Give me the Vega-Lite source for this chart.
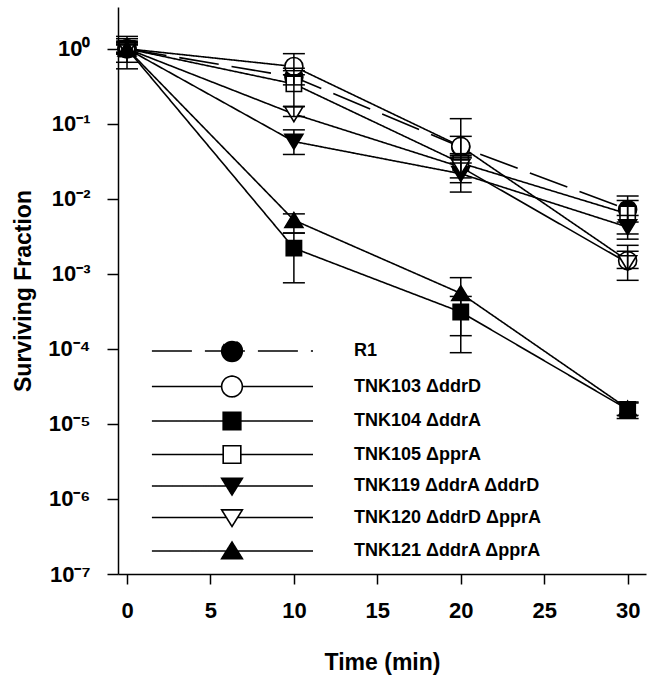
{
  "$schema": "https://vega.github.io/schema/vega-lite/v6.json",
  "width": 528,
  "height": 567,
  "autosize": {"type": "none"},
  "padding": {"left": 118, "top": 7, "right": 7, "bottom": 111},
  "background": "white",
  "config": {
    "view": {"stroke": null},
    "axis": {
      "grid": false,
      "domainColor": "black", "tickColor": "black", "labelColor": "black", "titleColor": "black",
      "domainWidth": 1.5, "tickWidth": 1.5,
      "labelFont": "Liberation Sans", "labelFontWeight": "bold", "labelFontSize": 22,
      "titleFont": "Liberation Sans", "titleFontWeight": "bold", "titleFontSize": 23
    },
    "legend": {
      "orient": "none", "legendX": 104, "legendY": 334, "title": null,
      "symbolSize": 324, "symbolStrokeColor": "black", "symbolStrokeWidth": 1.6, "symbolOpacity": 1,
      "labelFont": "Liberation Sans", "labelFontWeight": "bold", "labelFontSize": 18, "labelColor": "black",
      "labelOffset": 112, "rowPadding": 7.5, "padding": 0, "labelLimit": 400
    }
  },
  "data": {
    "values": [
      {"strain": "R1", "t": 0, "v": 1.0, "lo": 0.54, "hi": 1.46},
      {"strain": "R1", "t": 10, "v": 0.42, "lo": 0.33, "hi": 0.55},
      {"strain": "R1", "t": 20, "v": 0.049, "lo": 0.036, "hi": 0.068},
      {"strain": "R1", "t": 30, "v": 0.0072, "lo": 0.0049, "hi": 0.0109},
      {"strain": "TNK103 ΔddrD", "t": 0, "v": 1.0, "lo": 0.66, "hi": 1.36},
      {"strain": "TNK103 ΔddrD", "t": 10, "v": 0.58, "lo": 0.51, "hi": 0.86},
      {"strain": "TNK103 ΔddrD", "t": 20, "v": 0.05, "lo": 0.038, "hi": 0.117},
      {"strain": "TNK103 ΔddrD", "t": 30, "v": 0.0015, "lo": 0.00118, "hi": 0.002},
      {"strain": "TNK104 ΔddrA", "t": 0, "v": 1.0, "lo": 0.85, "hi": 1.2},
      {"strain": "TNK104 ΔddrA", "t": 10, "v": 0.0022, "lo": 0.00076, "hi": 0.0035},
      {"strain": "TNK104 ΔddrA", "t": 20, "v": 0.00031, "lo": 0.000089, "hi": 0.0005},
      {"strain": "TNK104 ΔddrA", "t": 30, "v": 0.0000156, "lo": 0.0000118, "hi": 0.0000196},
      {"strain": "TNK105 ΔpprA", "t": 0, "v": 1.0, "lo": 0.85, "hi": 1.26},
      {"strain": "TNK105 ΔpprA", "t": 10, "v": 0.34, "lo": 0.17, "hi": 0.45},
      {"strain": "TNK105 ΔpprA", "t": 20, "v": 0.03, "lo": 0.019, "hi": 0.04},
      {"strain": "TNK105 ΔpprA", "t": 30, "v": 0.0063, "lo": 0.0034, "hi": 0.0095},
      {"strain": "TNK119 ΔddrA ΔddrD", "t": 0, "v": 1.0, "lo": 0.87, "hi": 1.2},
      {"strain": "TNK119 ΔddrA ΔddrD", "t": 10, "v": 0.058, "lo": 0.039, "hi": 0.083},
      {"strain": "TNK119 ΔddrA ΔddrD", "t": 20, "v": 0.0216, "lo": 0.0123, "hi": 0.03},
      {"strain": "TNK119 ΔddrA ΔddrD", "t": 30, "v": 0.0042, "lo": 0.0029, "hi": 0.006},
      {"strain": "TNK120 ΔddrD ΔpprA", "t": 0, "v": 1.0, "lo": 0.88, "hi": 1.15},
      {"strain": "TNK120 ΔddrD ΔpprA", "t": 10, "v": 0.135, "lo": 0.125, "hi": 0.17},
      {"strain": "TNK120 ΔddrD ΔpprA", "t": 20, "v": 0.0265, "lo": 0.0164, "hi": 0.035},
      {"strain": "TNK120 ΔddrD ΔpprA", "t": 30, "v": 0.0014, "lo": 0.00082, "hi": 0.0024},
      {"strain": "TNK121 ΔddrA ΔpprA", "t": 0, "v": 1.0, "lo": 0.9, "hi": 1.12},
      {"strain": "TNK121 ΔddrA ΔpprA", "t": 10, "v": 0.0052, "lo": 0.0035, "hi": 0.0063},
      {"strain": "TNK121 ΔddrA ΔpprA", "t": 20, "v": 0.00055, "lo": 0.00015, "hi": 0.00089},
      {"strain": "TNK121 ΔddrA ΔpprA", "t": 30, "v": 0.000016, "lo": 0.000013, "hi": 0.000019}
    ]
  },
  "encoding": {
    "x": {
      "field": "t", "type": "quantitative",
      "scale": {"domain": [-0.54, 31.1], "nice": false, "zero": false},
      "axis": {"values": [0, 5, 10, 15, 20, 25, 30], "tickSize": 10, "labelPadding": 16, "title": "Time (min)", "titlePadding": 30, "labelFlush": false}
    },
    "y": {
      "field": "v", "type": "quantitative",
      "scale": {"type": "log", "domain": [1e-7, 3.6], "nice": false},
      "axis": {
        "values": [1e-7, 1e-6, 1e-5, 1e-4, 1e-3, 1e-2, 1e-1, 1],
        "tickSize": 11, "labelPadding": 17, "title": "Surviving Fraction", "titlePadding": 12, "labelFlush": false,
        "labelExpr": "datum.value >= 0.5 ? '10⁰' : datum.value >= 0.05 ? '10⁻¹' : datum.value >= 0.005 ? '10⁻²' : datum.value >= 0.0005 ? '10⁻³' : datum.value >= 0.00005 ? '10⁻⁴' : datum.value >= 0.000005 ? '10⁻⁵' : datum.value >= 0.0000005 ? '10⁻⁶' : '10⁻⁷'"
      }
    }
  },
  "layer": [
    {
      "mark": {"type": "line", "color": "black", "strokeWidth": 1.6},
      "encoding": {
        "strokeDash": {
          "field": "strain", "type": "nominal",
          "scale": {"range": [[40, 13], [1, 0], [1, 0], [1, 0], [1, 0], [1, 0], [1, 0]]},
          "legend": {
            "encode": {"symbols": {"update": {
              "shape": {"signal": "datum.value === 'R1' ? 'M-8.9,0H9M1.15,0A1.15,1.15 0 1,1 -1.15,0A1.15,1.15 0 1,1 1.15,0Z' : datum.value === 'TNK103 ΔddrD' ? 'M-8.9,0H-1.15M1.15,0H9M1.15,0A1.15,1.15 0 1,1 -1.15,0A1.15,1.15 0 1,1 1.15,0Z' : (datum.value === 'TNK104 ΔddrA' || datum.value === 'TNK105 ΔpprA') ? 'M-8.9,0H-0.98M0.98,0H9M-0.98,-0.98H0.98V0.98H-0.98Z' : datum.value === 'TNK121 ΔddrA ΔpprA' ? 'M-8.9,0H-0.62M0.62,0H9M-1.15,0.85H1.15L0,-1Z' : 'M-8.9,0H-0.62M0.62,0H9M-1.15,-0.85H1.15L0,1Z'"},
              "fill": {"signal": "(datum.value === 'TNK103 ΔddrD' || datum.value === 'TNK105 ΔpprA' || datum.value === 'TNK120 ΔddrD ΔpprA') ? 'white' : 'black'"},
              "stroke": {"value": "black"},
              "strokeWidth": {"value": 1.6},
              "opacity": {"value": 1}
            }}}
          }
        }
      }
    },
    {
      "mark": {"type": "point", "filled": true, "size": 324, "stroke": "black", "strokeWidth": 1.6, "opacity": 1},
      "encoding": {
        "shape": {
          "field": "strain", "type": "nominal",
          "scale": {
            "domain": ["R1", "TNK103 ΔddrD", "TNK104 ΔddrA", "TNK105 ΔpprA", "TNK119 ΔddrA ΔddrD", "TNK120 ΔddrD ΔpprA", "TNK121 ΔddrA ΔpprA"],
            "range": ["circle", "circle", "M-0.85,-0.85H0.85V0.85H-0.85Z", "M-0.85,-0.85H0.85V0.85H-0.85Z", "M-1,-0.8H1L0,0.85Z", "M-1,-0.8H1L0,0.85Z", "M-1,0.8H1L0,-0.85Z"]
          },
          "legend": null
        },
        "fill": {
          "field": "strain", "type": "nominal",
          "scale": {
            "domain": ["R1", "TNK103 ΔddrD", "TNK104 ΔddrA", "TNK105 ΔpprA", "TNK119 ΔddrA ΔddrD", "TNK120 ΔddrD ΔpprA", "TNK121 ΔddrA ΔpprA"],
            "range": ["black", "white", "black", "white", "black", "white", "black"]
          },
          "legend": null
        }
      }
    },
    {
      "mark": {"type": "rule", "color": "black", "strokeWidth": 1.5},
      "encoding": {
        "y": {"field": "lo", "type": "quantitative"},
        "y2": {"field": "hi"}
      }
    },
    {
      "mark": {"type": "tick", "orient": "horizontal", "size": 22, "thickness": 1.5, "color": "black", "opacity": 1},
      "encoding": {"y": {"field": "lo", "type": "quantitative"}}
    },
    {
      "mark": {"type": "tick", "orient": "horizontal", "size": 22, "thickness": 1.5, "color": "black", "opacity": 1},
      "encoding": {"y": {"field": "hi", "type": "quantitative"}}
    }
  ]
}
